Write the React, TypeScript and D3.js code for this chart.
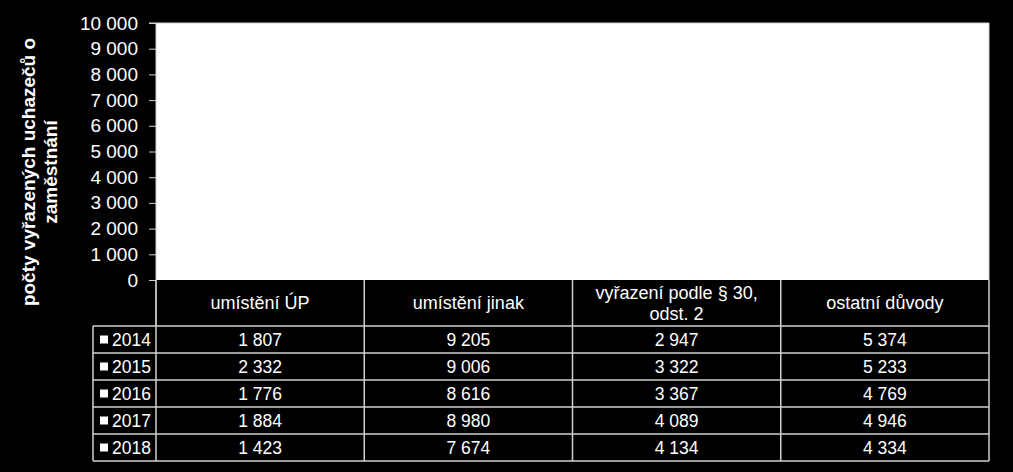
import React, { useEffect, useRef } from "react";
import * as d3 from "d3";

// categories along the x axis
const categories = [
  "umístění ÚP",
  "umístění jinak",
  "vyřazení podle § 30, odst. 2",
  "ostatní důvody",
];
// header text split in lines, as shown in the table
const categoryLines = [
  ["umístění ÚP"],
  ["umístění jinak"],
  ["vyřazení podle § 30,", "odst. 2"],
  ["ostatní důvody"],
];

const years = ["2014", "2015", "2016", "2017", "2018"];

const values2014 = [1807, 9205, 2947, 5374];
const values2015 = [2332, 9006, 3322, 5233];
const values2016 = [1776, 8616, 3367, 4769];
const values2017 = [1884, 8980, 4089, 4946];
const values2018 = [1423, 7674, 4134, 4334];

const yTicks = [0, 1000, 2000, 3000, 4000, 5000, 6000, 7000, 8000, 9000, 10000];

const W = 1013;
const H = 472;
const FONT = "'Liberation Sans', Arial, sans-serif";

const fmt = (v: number) => d3.format(",")(v).replace(/,/g, " ");

const App: React.FC = () => {
  const ref = useRef<SVGSVGElement>(null);

  useEffect(() => {
    const series = [values2014, values2015, values2016, values2017, values2018];
    const svg = d3.select(ref.current);
    svg.selectAll("*").remove();

    const left = 156,
      right = 989,
      top = 23,
      bottom = 280;
    const headerH = 46;
    const rowH = 27;
    const legendLeft = 93;
    const gridColor = "#d0d0d0";

    svg.append("rect").attr("width", W).attr("height", H).attr("fill", "#000");

    const x = d3.scaleBand().domain(categories).range([left, right]);
    const xs = d3
      .scaleBand()
      .domain(years)
      .range([0, x.bandwidth()])
      .paddingInner(0)
      .paddingOuter(0.6);
    const y = d3.scaleLinear().domain([0, 10000]).range([bottom, top]);

    // plot area
    svg
      .append("rect")
      .attr("x", left)
      .attr("y", top)
      .attr("width", right - left)
      .attr("height", bottom - top)
      .attr("fill", "#fff");

    // bars (white, as in the original)
    series.forEach((vals, si) => {
      svg
        .append("g")
        .selectAll("rect")
        .data(vals)
        .enter()
        .append("rect")
        .attr("x", (_d, i) => x(categories[i])! + xs(years[si])!)
        .attr("y", (d) => y(d))
        .attr("width", xs.bandwidth())
        .attr("height", (d) => y(0) - y(d))
        .attr("fill", "#fff");
    });

    // plot border (top and right)
    svg
      .append("path")
      .attr("d", `M${left},${top}H${right}V${bottom}`)
      .attr("fill", "none")
      .attr("stroke", gridColor)
      .attr("stroke-width", 1);

    // y axis
    const yAxis = svg
      .append("g")
      .attr("transform", `translate(${left},0)`)
      .call(
        d3
          .axisLeft(y)
          .tickValues(yTicks)
          .tickSize(7)
          .tickPadding(11)
          .tickFormat((d) => fmt(d as number))
      );
    yAxis
      .select(".domain")
      .attr("stroke", gridColor)
      .attr("d", `M-7,${top}H0V${bottom + headerH}`);
    yAxis.selectAll(".tick line").attr("stroke", gridColor);
    yAxis
      .selectAll(".tick text")
      .attr("fill", "#fff")
      .style("font-family", FONT)
      .style("font-size", "19px");

    // y title
    const title = svg
      .append("text")
      .attr("transform", `translate(35,172) rotate(-90)`)
      .attr("text-anchor", "middle")
      .attr("fill", "#fff")
      .style("font-family", FONT)
      .style("font-size", "19px")
      .style("font-weight", "bold");
    title.append("tspan").attr("x", 0).attr("dy", 0).text("počty vyřazených uchazečů o");
    title.append("tspan").attr("x", 0).attr("dy", 22).text("zaměstnání");

    // data table
    const table = svg.append("g");
    const tableBottom = bottom + headerH + rowH * years.length;

    // header
    categoryLines.forEach((lines, i) => {
      const cx = x(categories[i])! + x.bandwidth() / 2;
      const cy = bottom + headerH / 2;
      const t = table
        .append("text")
        .attr("text-anchor", "middle")
        .attr("fill", "#fff")
        .style("font-family", FONT)
        .style("font-size", "18px");
      lines.forEach((line, li) => {
        t.append("tspan")
          .attr("x", cx)
          .attr("y", cy + 6 + (li - (lines.length - 1) / 2) * 21)
          .text(line);
      });
    });

    // rows
    series.forEach((vals, si) => {
      const ry = bottom + headerH + si * rowH;
      table
        .append("rect")
        .attr("x", legendLeft + 7)
        .attr("y", ry + rowH / 2 - 4)
        .attr("width", 8)
        .attr("height", 8)
        .attr("fill", "#fff");
      table
        .append("text")
        .attr("x", legendLeft + 19)
        .attr("y", ry + rowH / 2 + 6.5)
        .attr("fill", "#fff")
        .style("font-family", FONT)
        .style("font-size", "17.5px")
        .text(years[si]);
      vals.forEach((v, i) => {
        table
          .append("text")
          .attr("x", x(categories[i])! + x.bandwidth() / 2)
          .attr("y", ry + rowH / 2 + 6.5)
          .attr("text-anchor", "middle")
          .attr("fill", "#fff")
          .style("font-family", FONT)
          .style("font-size", "17.5px")
          .text(fmt(v));
      });
    });

    // grid lines of table
    const lines = table.append("g").attr("stroke", gridColor).attr("stroke-width", 1.5);
    for (let r = 0; r <= years.length; r++) {
      const ly = bottom + headerH + r * rowH;
      lines.append("line").attr("x1", legendLeft).attr("x2", right).attr("y1", ly).attr("y2", ly);
    }
    lines
      .append("line")
      .attr("x1", legendLeft)
      .attr("x2", legendLeft)
      .attr("y1", bottom + headerH)
      .attr("y2", tableBottom);
    categories.forEach((c) => {
      const lx = x(c)!;
      lines.append("line").attr("x1", lx).attr("x2", lx).attr("y1", bottom).attr("y2", tableBottom);
    });
    lines.append("line").attr("x1", right).attr("x2", right).attr("y1", bottom).attr("y2", tableBottom);
  }, []);

  return (
    <svg
      ref={ref}
      width={W}
      height={H}
      style={{ position: "absolute", left: 0, top: 0, display: "block" }}
    />
  );
};

export default App;
